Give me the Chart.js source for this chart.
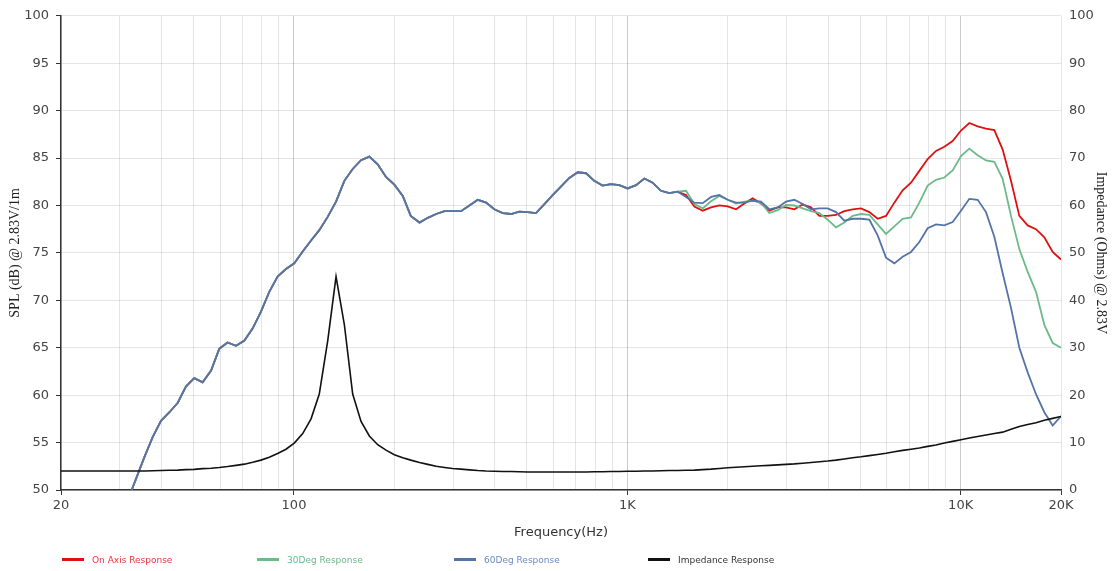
<!DOCTYPE html>
<html>
<head>
<meta charset="utf-8">
<script src="https://cdn.jsdelivr.net/npm/chart.js@4.4.1/dist/chart.umd.min.js"></script>
<style>
  body { margin: 0; background: #fff; }
  #wrap { position: relative; width: 1112px; height: 571px; }
  #legend { position: absolute; left: 0; top: 553px; width: 1112px; height: 14px; font: 9px "DejaVu Sans", sans-serif; }
  .item { position: absolute; top: 0; white-space: nowrap; line-height: 14px; }
  .item i { display: inline-block; width: 22px; height: 3px; vertical-align: middle; margin-right: 8px; position: relative; top: -1px; }
</style>
</head>
<body>
<div id="wrap">
  <canvas id="splChart"></canvas>
  <div id="legend"></div>
</div>
<script>
// frequency points (Hz), 40 per decade
const freqs = [
  20.0, 21.2, 22.4, 23.8, 25.2, 26.7, 28.3, 29.9, 31.7, 33.6, 35.6, 37.7, 39.9, 42.3, 44.8, 47.4, 50.2, 53.2, 56.4, 59.7,
  63.2, 67.0, 71.0, 75.2, 79.6, 84.3, 89.3, 94.6, 100.2, 106.2, 112.5, 119.1, 126.2, 133.7, 141.6, 150.0, 158.9, 168.3, 178.3, 188.8,
  200, 212, 224, 238, 252, 267, 283, 299, 317, 336, 356, 377, 399, 423, 448, 474, 502, 532, 564, 597,
  632, 670, 710, 752, 796, 843, 893, 946, 1002, 1062, 1125, 1191, 1262, 1337, 1416, 1500, 1589, 1683, 1783, 1888,
  2000, 2119, 2244, 2377, 2518, 2667, 2825, 2992, 3170, 3358, 3557, 3767, 3991, 4227, 4477, 4743, 5024, 5322, 5637, 5971,
  6325, 6699, 7096, 7517, 7962, 8434, 8934, 9463, 10024, 10618, 11247, 11913, 12619, 13367, 14159, 14998, 15887, 16828, 17825, 18881,
  20000
];

// SPL below ~1.4 kHz, identical for all three angles
const splLow = [
  null, null, null, null, null, null, null, null, 48.9, 51.2, 53.5, 55.6, 57.3, 58.2, 59.2, 60.9, 61.8, 61.35, 62.6, 64.9,
  65.55, 65.2, 65.75, 67.05, 68.8, 70.9, 72.5, 73.3, 73.9, 75.15, 76.3, 77.4, 78.8, 80.4, 82.6, 83.85, 84.77, 85.15, 84.35, 83.0,
  82.2, 81.0, 78.9, 78.2, 78.7, 79.1, 79.4, 79.4, 79.4, 80.0, 80.6, 80.3, 79.6, 79.2, 79.1, 79.35, 79.3, 79.2, 80.15, 81.1,
  82.0, 82.9, 83.5, 83.4, 82.6, 82.1, 82.25, 82.15, 81.8, 82.15, 82.85, 82.4, 81.55, 81.3, 81.45
];

const onAxisHigh = [
  81.1, 79.9, 79.45, 79.8, 80.0, 79.9, 79.6, 80.2, 80.75, 80.2, 79.45, 79.8, 79.8, 79.6, 80.1, 79.8, 78.9, 78.9, 79.0, 79.4,
  79.6, 79.7, 79.3, 78.6, 78.9, 80.3, 81.6, 82.4, 83.65, 84.9, 85.75, 86.2, 86.8, 87.9, 88.7, 88.35, 88.1, 87.95, 85.9, 82.6,
  78.9, 77.9, 77.5, 76.65, 75.1, 74.3
];
const deg30High = [
  81.55, 80.15, 79.7, 80.45, 81.0, 80.6, 80.2, 80.4, 80.5, 80.3, 79.2, 79.5, 80.05, 80.0, 79.7, 79.4, 79.2, 78.5, 77.7, 78.2,
  78.9, 79.1, 79.0, 78.0, 77.0, 77.8, 78.6, 78.75, 80.3, 82.1, 82.7, 82.95, 83.7, 85.2, 86.0, 85.3, 84.75, 84.6, 82.8, 78.9,
  75.4, 73.0, 70.9, 67.4, 65.5, 65.0
];
const deg60High = [
  80.9, 80.3, 80.25, 80.9, 81.1, 80.6, 80.3, 80.3, 80.5, 80.4, 79.6, 79.8, 80.4, 80.6, 80.15, 79.6, 79.7, 79.7, 79.3, 78.4,
  78.6, 78.6, 78.5, 76.85, 74.5, 73.9, 74.6, 75.1, 76.15, 77.6, 78.0, 77.9, 78.25, 79.45, 80.7, 80.6, 79.3, 76.7, 72.85, 69.2,
  65.0, 62.4, 60.1, 58.2, 56.8, 57.8
];

// impedance (ohms)
const impedance = [
  4.0, 4.0, 4.0, 4.0, 4.0, 4.0, 4.0, 4.0, 4.0, 4.0, 4.0, 4.05, 4.1, 4.15, 4.2, 4.3, 4.35, 4.5, 4.6, 4.75,
  4.95, 5.2, 5.45, 5.85, 6.3, 6.9, 7.7, 8.6, 9.9, 11.9, 15.0, 20.25, 31.4, 45.0, 34.9, 20.25, 14.45, 11.4, 9.55, 8.4,
  7.45, 6.8, 6.3, 5.8, 5.4, 5.0, 4.75, 4.55, 4.4, 4.25, 4.1, 4.0, 3.95, 3.9, 3.9, 3.85, 3.8, 3.8, 3.8, 3.8,
  3.8, 3.8, 3.8, 3.8, 3.85, 3.85, 3.9, 3.9, 3.95, 3.95, 4.0, 4.0, 4.05, 4.1, 4.1, 4.15, 4.2, 4.3, 4.4, 4.55,
  4.7, 4.8, 4.9, 5.0, 5.1, 5.2, 5.3, 5.4, 5.5, 5.65, 5.8, 5.95, 6.1, 6.3, 6.55, 6.8, 7.0, 7.25, 7.5, 7.75,
  8.05, 8.35, 8.6, 8.85, 9.2, 9.5, 9.9, 10.25, 10.6, 10.95, 11.3, 11.6, 11.9, 12.2, 12.8, 13.4, 13.8, 14.2, 14.7, 15.1,
  15.5
];

const freqGrid = [20, 30, 40, 50, 60, 70, 80, 90, 100, 200, 300, 400, 500, 600, 700, 800, 900,
  1000, 2000, 3000, 4000, 5000, 6000, 7000, 8000, 9000, 10000, 20000];
const freqLabels = { 20: '20', 100: '100', 1000: '1K', 10000: '10K', 20000: '20K' };

const seriesNames = ['On Axis Response', '30Deg Response', '60Deg Response', 'Impedance Response'];
const lineColors = ['#dd1111', '#6cb98a', '#5474a8', '#111111'];
const textColors = ['#e23a3a', '#6db88c', '#6a8bc2', '#333333'];
const legendLeft = [62, 257, 454, 648];

function toPoints(values) {
  return values.map((v, i) => ({ x: freqs[i], y: v }));
}

document.addEventListener('DOMContentLoaded', function() {
  const seriesData = [
    splLow.concat(onAxisHigh),
    splLow.concat(deg30High),
    splLow.concat(deg60High),
    impedance
  ];

  const datasets = seriesData.map((vals, k) => ({
    label: seriesNames[k],
    data: toPoints(vals),
    borderColor: lineColors[k],
    backgroundColor: lineColors[k],
    borderWidth: k === 3 ? 1.6 : 1.8,
    pointRadius: 0,
    tension: 0,
    yAxisID: k === 3 ? 'y1' : 'y',
    order: [3, 2, 1, 0][k]
  }));

  const ctx = document.getElementById('splChart').getContext('2d');
  new Chart(ctx, {
    type: 'line',
    data: { datasets: datasets },
    options: {
      responsive: true,
      maintainAspectRatio: false,
      animation: false,
      layout: { padding: { top: 12, left: 0, right: 0, bottom: 0 } },
      plugins: {
        legend: { display: false },
        tooltip: { enabled: false }
      },
      scales: {
        x: {
          type: 'logarithmic',
          min: 20,
          max: 20000,
          afterBuildTicks: scale => { scale.ticks = freqGrid.map(v => ({ value: v })); },
          afterFit: scale => { scale.height = 81; },
          border: { color: '#333', width: 1.5 },
          grid: {
            color: c => (c.tick && [100, 1000, 10000].includes(c.tick.value)) ? 'rgba(0,0,0,0.2)' : 'rgba(0,0,0,0.1)',
            tickColor: c => (c.tick && freqLabels[c.tick.value]) ? '#333' : 'rgba(0,0,0,0)',
            tickLength: 5
          },
          ticks: {
            autoSkip: false,
            maxRotation: 0,
            padding: 3,
            color: '#444',
            font: { family: 'DejaVu Sans', size: 13 },
            callback: v => freqLabels[v] || ''
          },
          title: {
            display: true,
            text: 'Frequency(Hz)',
            color: '#333',
            font: { family: 'DejaVu Sans', size: 13 },
            padding: { top: 0, bottom: 31 }
          }
        },
        y: {
          position: 'left',
          min: 50,
          max: 100,
          afterFit: scale => { scale.width = 61; },
          border: { color: '#333', width: 1.5 },
          grid: { color: 'rgba(0,0,0,0.1)', tickColor: '#333', tickLength: 5 },
          ticks: {
            stepSize: 5,
            padding: 7,
            color: '#444',
            font: { family: 'DejaVu Sans', size: 13 }
          },
          title: {
            display: true,
            text: 'SPL (dB) @ 2.83V/1m',
            color: '#222',
            font: { family: 'Liberation Serif', size: 14 },
            padding: { top: 7, bottom: 0 }
          }
        },
        y1: {
          position: 'right',
          min: 0,
          max: 100,
          afterFit: scale => { scale.width = 51; },
          border: { display: false },
          grid: { drawOnChartArea: false, drawTicks: false },
          ticks: {
            stepSize: 10,
            padding: 8,
            color: '#444',
            font: { family: 'DejaVu Sans', size: 13 }
          },
          title: {
            display: true,
            text: 'Impedance (Ohms) @ 2.83V',
            color: '#222',
            font: { family: 'Liberation Serif', size: 14 },
            padding: { top: 3, bottom: 0 }
          }
        }
      }
    }
  });

  // legend below the chart
  const legend = document.getElementById('legend');
  seriesNames.forEach((name, k) => {
    const item = document.createElement('span');
    item.className = 'item';
    item.style.left = legendLeft[k] + 'px';
    item.style.color = textColors[k];
    item.innerHTML = '<i style="background:' + lineColors[k] + '"></i>' + name;
    legend.appendChild(item);
  });
});
</script>
</body>
</html>
